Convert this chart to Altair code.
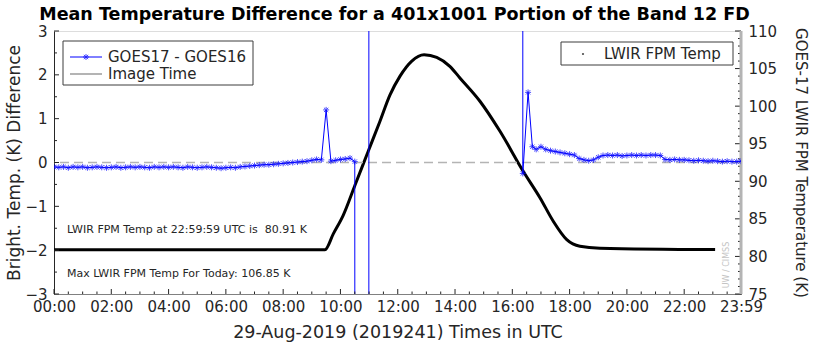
import altair as alt
import pandas as pd

# ---------------- data ----------------
TITLE = "Mean Temperature Difference for a 401x1001 Portion of the Band 12 FD"
X_TITLE = "29-Aug-2019 (2019241) Times in UTC"
Y_LEFT_TITLE = "Bright. Temp. (K) Difference"
Y_RIGHT_TITLE = "GOES-17 LWIR FPM Temperature (K)"
NOTE_1 = "LWIR FPM Temp at 22:59:59 UTC is \u00a080.91 K"
NOTE_2 = "Max LWIR FPM Temp For Today: 106.85 K"
WATERMARK = "UW / CIMSS"
LEGEND_LEFT = ["GOES17 - GOES16", "Image Time"]
LEGEND_RIGHT = ["LWIR FPM Temp"]
IMAGE_TIME = "23:59"

# GOES17 - GOES16 difference, segment before the off-scale excursion
DIFF_A_TIMES = ("00:00 00:10 00:20 00:30 00:40 00:50 01:00 01:10 01:20 01:30 01:40 01:50 "
                "02:00 02:10 02:20 02:30 02:40 02:50 03:00 03:10 03:20 03:30 03:40 03:50 "
                "04:00 04:10 04:20 04:30 04:40 04:50 05:00 05:10 05:20 05:30 05:40 05:50 "
                "06:00 06:10 06:20 06:30 06:40 06:50 07:00 07:10 07:20 07:30 07:40 07:50 "
                "08:00 08:10 08:20 08:30 08:40 08:50 09:00 09:10 09:20 09:30 09:40 09:50 "
                "10:00 10:10 10:20 10:30 10:33").split()
DIFF_A_VALUES = [-0.10, -0.11, -0.10, -0.12, -0.10, -0.11,
                 -0.10, -0.12, -0.11, -0.10, -0.11, -0.12,
                 -0.11, -0.10, -0.12, -0.11, -0.10, -0.11,
                 -0.10, -0.11, -0.12, -0.10, -0.11, -0.10,
                 -0.11, -0.10, -0.11, -0.12, -0.10, -0.11,
                 -0.12, -0.11, -0.10, -0.11, -0.12, -0.13,
                 -0.12, -0.11, -0.12, -0.10, -0.09, -0.08,
                 -0.07, -0.06, -0.05, -0.05, -0.04, -0.03,
                 -0.02, -0.01, 0.00, 0.01, 0.02, 0.03,
                 0.05, 0.07, 0.06, 1.20, 0.03, 0.05,
                 0.07, 0.08, 0.10, 0.02, -100.0]
# off-scale jump
DIFF_B_TIMES = ["10:59", "11:00"]
DIFF_B_VALUES = [-100.0, 100.0]
# after the excursion
DIFF_C_TIMES = ("16:21 16:22 16:33 16:42 16:50 17:00 17:10 17:20 17:30 17:40 17:50 "
                "18:00 18:10 18:20 18:30 18:40 18:50 19:00 19:10 19:20 19:30 19:40 19:50 "
                "20:00 20:10 20:20 20:30 20:40 20:50 21:00 21:10 21:20 21:30 21:40 21:50 "
                "22:00 22:10 22:20 22:30 22:40 22:50 23:00 23:10 23:20 23:30 23:40 23:50 23:59").split()
DIFF_C_VALUES = [100.0, -0.25, 1.60, 0.36, 0.30, 0.36, 0.30, 0.27, 0.25, 0.23, 0.21,
                 0.19, 0.17, 0.09, 0.06, 0.04, 0.06, 0.12, 0.16, 0.17, 0.16, 0.17, 0.15,
                 0.16, 0.17, 0.16, 0.17, 0.16, 0.17, 0.17, 0.16, 0.07, 0.06, 0.07, 0.06,
                 0.06, 0.05, 0.04, 0.05, 0.04, 0.03, 0.04, 0.03, 0.02, 0.03, 0.02, 0.02, 0.03]

# LWIR FPM temperature (K)
FPM_HOURS = [0.0, 9.46, 9.75, 10.10, 10.51, 10.97, 11.38, 11.73, 12.08, 12.49, 12.92,
             13.36, 13.82, 14.17, 14.87, 15.57, 16.38, 16.97, 17.43, 17.90, 18.36, 19.06, 23.08]
FPM_TEMPS = [80.9, 80.9, 83.0, 85.5, 89.5, 94.0, 98.0, 101.5, 104.0, 106.0, 106.85,
             106.5, 105.3, 103.75, 100.65, 96.65, 91.33, 87.78, 84.68, 82.23, 81.35, 81.1, 80.91]

X_LABEL_VALUES = [0, 2, 4, 6, 8, 10, 12, 14, 16, 18, 20, 22, 23 + 59 / 60]
X_MAJOR_TICKS = [0, 2, 4, 6, 8, 10, 12, 14, 16, 18, 20, 22]
X_MINOR_TICKS = [0.5, 1, 1.5, 2.5, 3, 3.5, 4.5, 5, 5.5, 6.5, 7, 7.5, 8.5, 9, 9.5,
                 10.5, 11, 11.5, 12.5, 13, 13.5, 14.5, 15, 15.5, 16.5, 17, 17.5,
                 18.5, 19, 19.5, 20.5, 21, 21.5, 22.5, 23, 23.5]
Y_LEFT_VALUES = [-3, -2, -1, 0, 1, 2, 3]
Y_LEFT_MINOR = [-2.5, -1.5, -0.5, 0.5, 1.5, 2.5]
Y_RIGHT_VALUES = [75, 80, 85, 90, 95, 100, 105, 110]
Y_RIGHT_MINOR = [76, 77, 78, 79, 81, 82, 83, 84, 86, 87, 88, 89, 91, 92, 93, 94,
                 96, 97, 98, 99, 101, 102, 103, 104, 106, 107, 108, 109]


def hrs(t):
    h, m = t.split(":")
    return int(h) + int(m) / 60


rows = []
for seg, (ts, vs) in enumerate([(DIFF_A_TIMES, DIFF_A_VALUES),
                                (DIFF_B_TIMES, DIFF_B_VALUES),
                                (DIFF_C_TIMES, DIFF_C_VALUES)]):
    for t, v in zip(ts, vs):
        rows.append({"h": hrs(t), "y": v, "seg": seg, "order": hrs(t)})
diff_df = pd.DataFrame(rows)
fpm_df = pd.DataFrame({"h": FPM_HOURS, "temp": FPM_TEMPS})

# ---------------- layout ----------------
W, H = 687, 263
X_END = hrs(IMAGE_TIME)
FONT = "DejaVu Sans"
INK = "#262626"
BLUE = "#0000ff"
GRAY = "#b4b4b4"
STAR = "M-1,0L1,0M0,-1L0,1M-0.72,-0.72L0.72,0.72M-0.72,0.72L0.72,-0.72"

xscale = alt.Scale(domain=[0, X_END], nice=False, zero=False)
yl_scale = alt.Scale(domain=[-3, 3], nice=False, zero=False)
yr_scale = alt.Scale(domain=[75, 110], nice=False, zero=False)

x_axis = alt.Axis(
    values=X_LABEL_VALUES,
    labelExpr="datum.value > 23.5 ? '23:59' : (datum.value < 10 ? '0' : '') + datum.value + ':00'",
    ticks=False, labelPadding=5, labelFontSize=15, labelColor=INK, labelOverlap=False,
    labelFlush=False, domainColor="#808080", grid=False,
    title=X_TITLE, titleFontSize=17.5, titleFontWeight="normal", titleColor=INK,
    titlePadding=9,
)
yl_axis = alt.Axis(
    values=Y_LEFT_VALUES, format="d", ticks=False, labelPadding=7, labelFontSize=15,
    labelColor=INK, domainColor=INK, grid=False, labelFlush=False,
    title=Y_LEFT_TITLE, titleFontSize=17, titleFontWeight="normal", titleColor=INK,
    titlePadding=1,
)
yr_axis = alt.Axis(
    orient="right", values=Y_RIGHT_VALUES, ticks=False, labelPadding=7, labelFontSize=15,
    labelColor=INK, domainColor=INK, grid=False, labelFlush=False,
    title=Y_RIGHT_TITLE, titleFontSize=15, titleFontWeight="normal", titleColor=INK,
    titlePadding=16,
)


def X(field="h"):
    return alt.X(f"{field}:Q", scale=xscale, axis=x_axis)


def YL(field="y"):
    return alt.Y(f"{field}:Q", scale=yl_scale, axis=yl_axis)


def YR(field="temp"):
    return alt.Y(f"{field}:Q", scale=yr_scale, axis=yr_axis)


one = pd.DataFrame({"k": [0]})

# ---- right (temperature) group ----
fpm_line = alt.Chart(fpm_df).mark_line(color="black", strokeWidth=3, interpolate="monotone").encode(
    x=X(), y=YR())
r_major = alt.Chart(pd.DataFrame({"temp": Y_RIGHT_VALUES})).mark_rule(color=INK).encode(
    y=YR(), x=alt.value(W), x2=alt.value(W - 6))
r_minor = alt.Chart(pd.DataFrame({"temp": Y_RIGHT_MINOR})).mark_rule(color=INK).encode(
    y=YR(), x=alt.value(W), x2=alt.value(W - 3))
right = alt.layer(fpm_line, r_major, r_minor)

# ---- left (difference) group ----
zero_line = alt.Chart(pd.DataFrame({"y": [0]})).mark_rule(
    color=GRAY, strokeWidth=1.5, strokeDash=[9, 5]).encode(y=YL())
image_time = alt.Chart(pd.DataFrame({"h": [X_END]})).mark_rule(color=GRAY, strokeWidth=3).encode(
    x=X())
diff_line = alt.Chart(diff_df).mark_line(color=BLUE, strokeWidth=1, clip=True).encode(
    x=X(), y=YL(), detail="seg:N", order="order:Q",
)
diff_pts = alt.Chart(diff_df).transform_filter("abs(datum.y) < 10").mark_point(
    shape=STAR, filled=False, color=BLUE, strokeWidth=1, size=36, clip=True).encode(
    x=X(), y=YL(),
)
x_major = alt.Chart(pd.DataFrame({"h": X_MAJOR_TICKS})).mark_rule(color=INK).encode(
    x=X(), y=alt.value(H), y2=alt.value(H - 5))
x_minor = alt.Chart(pd.DataFrame({"h": X_MINOR_TICKS})).mark_rule(color=INK).encode(
    x=X(), y=alt.value(H), y2=alt.value(H - 2.5))
l_major = alt.Chart(pd.DataFrame({"y": Y_LEFT_VALUES})).mark_rule(color=INK).encode(
    y=YL(), x=alt.value(0), x2=alt.value(5))
l_minor = alt.Chart(pd.DataFrame({"y": Y_LEFT_MINOR})).mark_rule(color=INK).encode(
    y=YL(), x=alt.value(0), x2=alt.value(3))


def txt(s, x, y, size=11, **kw):
    return alt.Chart(one).mark_text(font=FONT, fontSize=size, color=INK, align="left",
                                    baseline="middle", **kw).encode(
        x=alt.value(x), y=alt.value(y), text=alt.value(s))


note1 = txt(NOTE_1, 13, 199, 11)
note2 = txt(NOTE_2, 13, 243, 11)
mark_wm = alt.Chart(one).mark_text(font=FONT, fontSize=8, color="#c4c4c4", angle=270,
                                   align="center", baseline="middle").encode(
    x=alt.value(673), y=alt.value(234), text=alt.value(WATERMARK))
title = alt.Chart(one).mark_text(font=FONT, fontSize=17.5, fontWeight="bold", color="black",
                                 align="center", baseline="middle").encode(
    x=alt.value(W / 2 - 3), y=alt.value(-16), text=alt.value(TITLE))

# legend 1
leg1_box = alt.Chart(one).mark_rect(fill="white", stroke="#3c3c3c", strokeWidth=1).encode(
    x=alt.value(9), x2=alt.value(199), y=alt.value(10), y2=alt.value(54))
leg1_line = alt.Chart(one).mark_rule(color=BLUE, strokeWidth=1).encode(
    x=alt.value(16), x2=alt.value(48), y=alt.value(26))
leg1_star = alt.Chart(one).mark_point(shape=STAR, filled=False, color=BLUE, strokeWidth=1,
                                      size=36).encode(x=alt.value(32), y=alt.value(26))
leg1_t1 = txt(LEGEND_LEFT[0], 54, 26, 15)
leg1_gray = alt.Chart(one).mark_rule(color=GRAY, strokeWidth=2).encode(
    x=alt.value(16), x2=alt.value(48), y=alt.value(43))
leg1_t2 = txt(LEGEND_LEFT[1], 54, 43, 15)

# legend 2
leg2_box = alt.Chart(one).mark_rect(fill="white", stroke="#3c3c3c", strokeWidth=1).encode(
    x=alt.value(507), x2=alt.value(679), y=alt.value(11), y2=alt.value(34))
leg2_dot = alt.Chart(one).mark_point(filled=True, color="black", size=5, shape="circle").encode(
    x=alt.value(529), y=alt.value(23))
leg2_t = txt(LEGEND_RIGHT[0], 550, 23, 15)

left = alt.layer(zero_line, image_time, diff_line, diff_pts, x_major, x_minor, l_major, l_minor,
                 note1, note2, mark_wm, title,
                 leg1_box, leg1_line, leg1_star, leg1_t1, leg1_gray, leg1_t2,
                 leg2_box, leg2_dot, leg2_t)

chart = alt.layer(right, left).resolve_scale(y="independent").properties(
    width=W, height=H,
    autosize=alt.AutoSizeParams(type="none"),
    padding={"left": 54, "top": 31, "right": 818 - 54 - W, "bottom": 356 - 31 - H},
    background="white",
).configure_view(stroke="#9a9a9a", strokeWidth=1).configure(font=FONT)

chart.save("out.html", embed_options={"renderer": "svg", "actions": False})
